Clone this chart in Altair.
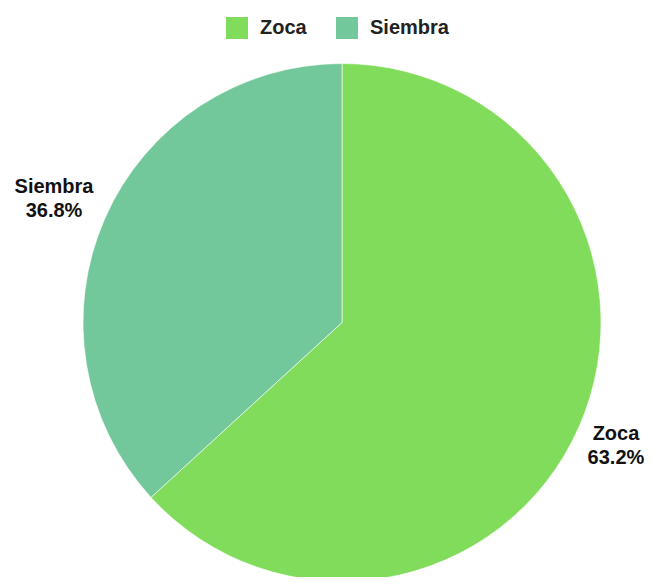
import altair as alt
import pandas as pd

categories = ["Zoca", "Siembra"]
values = [63.2, 36.8]
colors = ["#80dc5a", "#72c89a"]

df = pd.DataFrame({
    "cat": categories,
    "val": values,
    "idx": list(range(len(categories))),
    "label": [f"{c}\n{v:.1f}%" for c, v in zip(categories, values)],
})

CX, CY, R = 334, 314.5, 259

base = alt.Chart(df).encode(
    theta=alt.Theta("val:Q", stack=True),
    order=alt.Order("idx:O"),
)

arc = base.mark_arc(radius=R, stroke="#ffffff", strokeWidth=0.6).encode(
    x=alt.value(CX),
    y=alt.value(CY),
    color=alt.Color(
        "cat:N",
        scale=alt.Scale(domain=categories, range=colors),
        sort=categories,
        legend=alt.Legend(
            title=None,
            orient="none",
            direction="horizontal",
            legendX=218,
            legendY=9,
            padding=0,
            symbolType="square",
            symbolSize=484,
            symbolStrokeWidth=0,
            symbolOpacity=1,
            labelFont="Liberation Sans",
            labelFontSize=20,
            labelFontWeight="bold",
            labelColor="#222222",
            labelOffset=12,
            columnPadding=29,
        ),
    ),
)

text = base.mark_text(
    radius=307,
    dx=-7,
    dy=-12,
    font="Liberation Sans",
    fontSize=20,
    fontWeight="bold",
    color="#111111",
    lineBreak="\n",
    lineHeight=24,
    align="center",
    baseline="middle",
).encode(
    x=alt.value(CX),
    y=alt.value(CY),
    text="label:N",
)

chart = (
    alt.layer(arc, text)
    .properties(
        width=637,
        height=569,
        padding=0,
        background="#ffffff",
        autosize=alt.AutoSizeParams(type="none"),
    )
    .configure_view(strokeWidth=0, stroke=None)
)

chart.save("out.html", embed_options={"renderer": "svg", "actions": False})
